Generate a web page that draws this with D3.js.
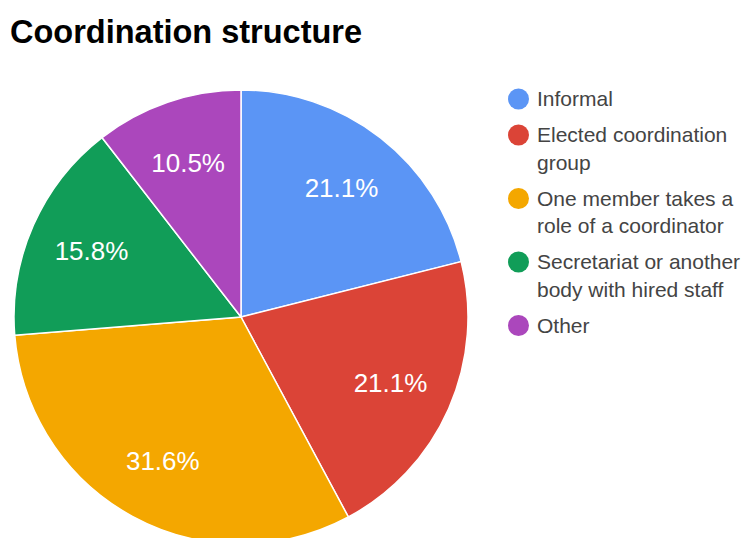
<!DOCTYPE html>
<html>
<head>
<meta charset="utf-8">
<script src="https://cdn.jsdelivr.net/npm/d3@7"></script>
<style>
  html, body { margin: 0; padding: 0; background: #fff; }
  svg { display: block; font-family: "Liberation Sans", Arial, sans-serif; }
</style>
</head>
<body>
<svg id="chart" width="749" height="538"></svg>
<script>
// Coordination structure — share of responses per category
const categories = [
  "Informal",
  "Elected coordination group",
  "One member takes a role of a coordinator",
  "Secretariat or another body with hired staff",
  "Other"
];
const shares = [21.1, 21.1, 31.6, 15.8, 10.5];
const legendLines = [
  ["Informal"],
  ["Elected coordination", "group"],
  ["One member takes a", "role of a coordinator"],
  ["Secretariat or another", "body with hired staff"],
  ["Other"]
];
const palette = ["#5b95f5", "#db4437", "#f4a700", "#119d58", "#ab47bc"];

const svg = d3.select("#chart");
const W = 749, H = 538;

// Title
svg.append("text")
  .attr("x", 10).attr("y", 43)
  .attr("font-size", 32.5).attr("font-weight", "bold")
  .attr("fill", "#000")
  .text("Coordination structure");

// Pie
const cx = 241, cy = 317, radius = 227;
const color = d3.scaleOrdinal().domain(categories).range(palette);
const pie = d3.pie().sort(null).value(d => d.v);
const data = categories.map((c, i) => ({ c, v: shares[i] }));
const arcs = pie(data);
const arc = d3.arc().innerRadius(0).outerRadius(radius);
const labelArc = d3.arc().innerRadius(radius * 0.72).outerRadius(radius * 0.72);

const g = svg.append("g").attr("transform", `translate(${cx},${cy})`);
g.selectAll("path.slice")
  .data(arcs)
  .join("path")
  .attr("class", "slice")
  .attr("d", arc)
  .attr("fill", d => color(d.data.c))
  .attr("stroke", "#fff")
  .attr("stroke-width", 1.5);

g.selectAll("text.pct")
  .data(arcs)
  .join("text")
  .attr("class", "pct")
  .attr("transform", d => {
    const [x, y] = labelArc.centroid(d);
    return `translate(${x},${y})`;
  })
  .attr("text-anchor", "middle")
  .attr("dy", "0.36em")
  .attr("font-size", 26)
  .attr("fill", "#fff")
  .text(d => d.data.v.toFixed(1) + "%");

// Legend
const legend = svg.append("g").attr("font-size", 21).attr("fill", "#444");
const lineH = 27.5, entryGap = 36;
let baseY = 106;
categories.forEach((c, i) => {
  const item = legend.append("g");
  item.append("circle")
    .attr("cx", 518.5).attr("cy", baseY - 7)
    .attr("r", 10.5)
    .attr("fill", color(c));
  legendLines[i].forEach((ln, j) => {
    item.append("text")
      .attr("x", 537).attr("y", baseY + j * lineH)
      .text(ln);
  });
  baseY += entryGap + (legendLines[i].length - 1) * lineH;
});
</script>
</body>
</html>
